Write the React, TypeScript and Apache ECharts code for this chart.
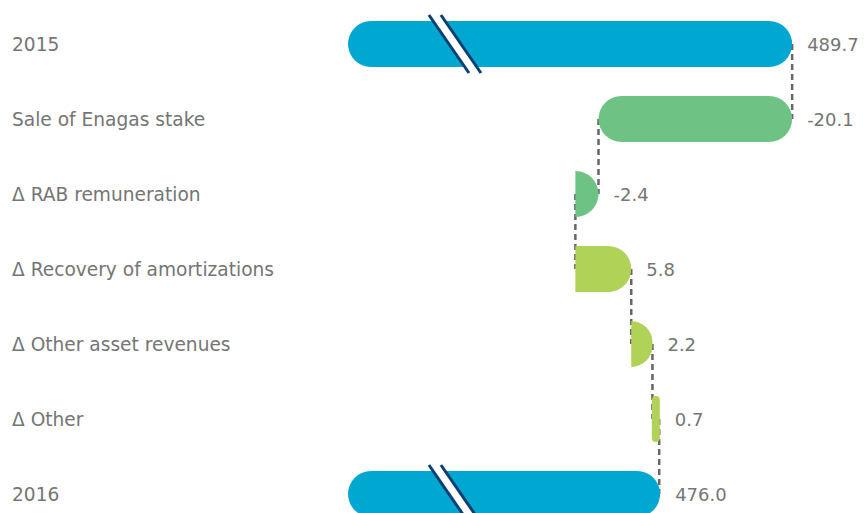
import React, { useEffect, useRef } from "react";
import * as echarts from "echarts";

const categories = [
  "2015",
  "Sale of Enagas stake",
  "Δ RAB remuneration",
  "Δ Recovery of amortizations",
  "Δ Other asset revenues",
  "Δ Other",
  "2016",
];
const values = [489.7, -20.1, -2.4, 5.8, 2.2, 0.7, 476.0];
const isTotal = [true, false, false, false, false, false, true];

const AXIS_MIN = 443.6;
const AXIS_MAX = 495;
const BREAK_AT = 454.7;

const BLUE = "#00A8D1";
const GREEN = "#6EC384";
const LIME = "#B0D256";
const NAVY = "#0A3F73";
const TEXT = "#757575";
const FONT = "'DejaVu Sans', sans-serif";

export default function App() {
  const ref = useRef<HTMLDivElement>(null);
  useEffect(() => {
    if (!ref.current) return;
    const chart = echarts.init(ref.current, null, { renderer: "svg" });

    let run = 0;
    const barData: any[] = [];
    const ends: number[] = [];
    values.forEach((v, i) => {
      let start: number, end: number, kind: number;
      if (isTotal[i]) {
        start = AXIS_MIN;
        end = v;
        run = v;
        kind = 0;
      } else {
        start = run;
        end = run + v;
        run = end;
        kind = v < 0 ? 1 : 2;
      }
      ends.push(end);
      barData.push([i, start, end, kind, v]);
    });
    const connData: any[] = [];
    for (let i = 0; i < ends.length - 1; i++) connData.push([i, ends[i]]);

    const colors = [BLUE, GREEN, LIME];

    const option: any = {
      animation: false,
      grid: { left: 348, top: 6.5, width: 495.2, height: 525, containLabel: false },
      xAxis: {
        type: "value",
        min: AXIS_MIN,
        max: AXIS_MAX,
        show: false,
      },
      yAxis: {
        type: "category",
        data: categories,
        inverse: true,
        axisLine: { show: false },
        axisTick: { show: false },
        splitLine: { show: false },
        axisLabel: {
          align: "left",
          margin: 336,
          color: TEXT,
          fontSize: 18.6,
          fontFamily: FONT,
        },
      },
      series: [
        {
          type: "custom",
          z: 1,
          data: connData,
          encode: { x: 1, y: 0 },
          renderItem: (params: any, api: any) => {
            const i = api.value(0);
            const v = api.value(1);
            const a = api.coord([v, i]);
            const b = api.coord([v, i + 1]);
            return {
              type: "line",
              shape: { x1: a[0], y1: a[1], x2: b[0], y2: b[1] },
              style: { stroke: "#666666", lineWidth: 2.5, lineDash: [6, 4] },
            };
          },
        },
        {
          type: "custom",
          z: 2,
          data: barData,
          encode: { x: [1, 2], y: 0 },
          renderItem: (params: any, api: any) => {
            const i = api.value(0);
            const s = api.value(1);
            const e = api.value(2);
            const kind = api.value(3);
            const v = api.value(4);
            const p0 = api.coord([s, i]);
            const p1 = api.coord([e, i]);
            const band = api.size([0, 1])[1];
            const h = band * 0.613;
            let x0 = Math.min(p0[0], p1[0]);
            let x1 = Math.max(p0[0], p1[0]);
            let w = x1 - x0;
            if (w < 8) {
              const m = (x0 + x1) / 2;
              x0 = m - 4;
              x1 = m + 4;
              w = 8;
            }
            const cy = p0[1];
            let r: any;
            if (w > 2 * h) r = h / 2;
            else if (w < 12) r = w / 2;
            else {
              const rr = Math.min(h / 2, w);
              r = [0, rr, rr, 0];
            }
            const children: any[] = [
              {
                type: "rect",
                shape: { x: x0, y: cy - h / 2, width: w, height: h, r },
                style: { fill: colors[kind] },
              },
            ];
            if (kind === 0) {
              const c = api.coord([BREAK_AT, i])[0];
              const dy = 29;
              const dx = 20;
              const g = 6;
              children.push({
                type: "polygon",
                shape: {
                  points: [
                    [c - g - dx, cy - dy],
                    [c + g - dx, cy - dy],
                    [c + g + dx, cy + dy],
                    [c - g + dx, cy + dy],
                  ],
                },
                style: { fill: "#ffffff" },
              });
              children.push({
                type: "line",
                shape: { x1: c - g - dx, y1: cy - dy, x2: c - g + dx, y2: cy + dy },
                style: { stroke: NAVY, lineWidth: 3 },
              });
              children.push({
                type: "line",
                shape: { x1: c + g - dx, y1: cy - dy, x2: c + g + dx, y2: cy + dy },
                style: { stroke: NAVY, lineWidth: 3 },
              });
            }
            children.push({
              type: "text",
              style: {
                x: x1 + 15,
                y: cy,
                text: v.toFixed(1),
                fill: TEXT,
                fontSize: 18,
                fontFamily: FONT,
                verticalAlign: "middle",
                align: "left",
              },
            });
            return { type: "group", children };
          },
        },
      ],
    };
    chart.setOption(option);
    return () => chart.dispose();
  }, []);
  return (
    <div
      ref={ref}
      style={{ position: "absolute", left: 0, top: 0, width: 865, height: 540, background: "#fff" }}
    />
  );
}
